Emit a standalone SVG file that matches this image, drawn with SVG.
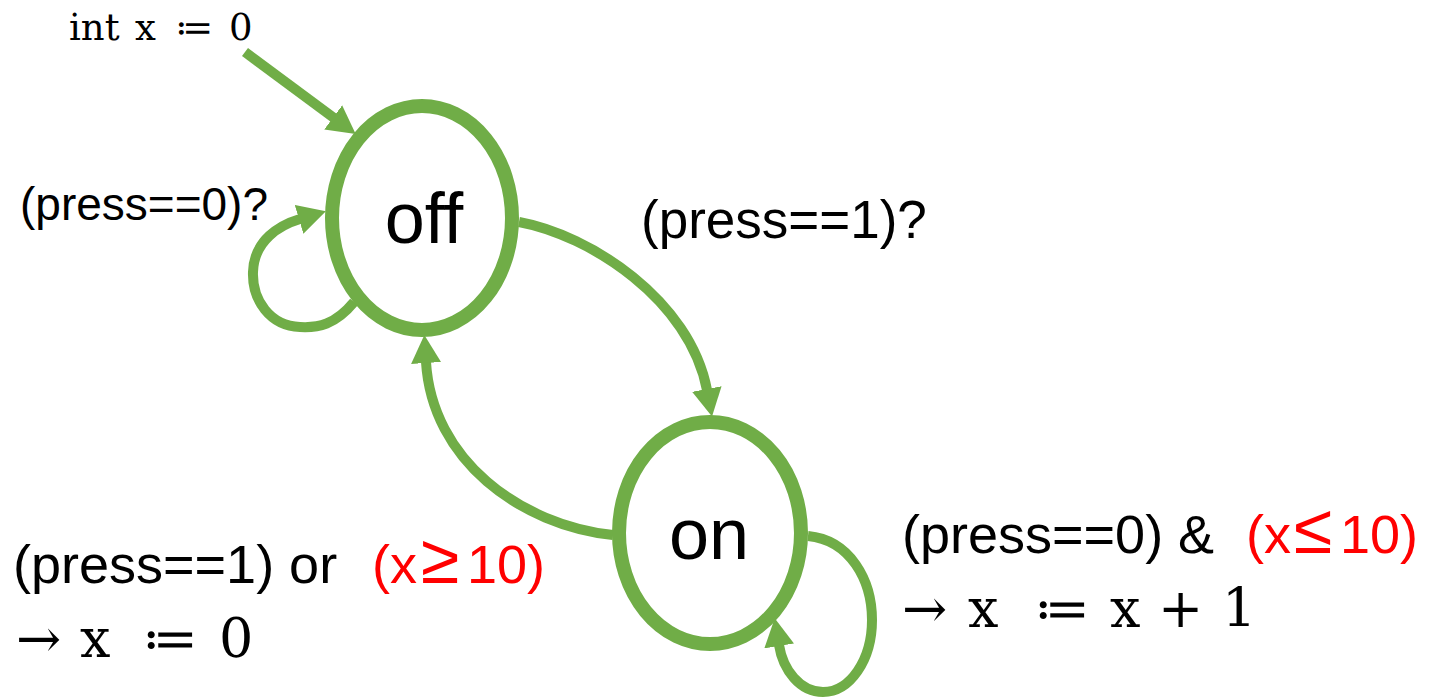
<svg xmlns="http://www.w3.org/2000/svg" width="1430" height="698" viewBox="0 0 1430 698">
<style>
.state{fill:#fff;stroke:#70AD47;stroke-width:14}
.edge{fill:none;stroke:#70AD47;stroke-width:10}
.sans{font-family:"Liberation Sans",Arial,sans-serif;fill:#000}
.serif{font-family:"DejaVu Serif","Liberation Serif",serif;fill:#000}
.red{fill:#FF0000}
</style>
<defs>
<marker id="arr" markerUnits="userSpaceOnUse" markerWidth="30" markerHeight="32" refX="1" refY="15" orient="auto" viewBox="0 0 30 30">
<path d="M0,0 L28,15 L0,30 z" fill="#70AD47"/>
</marker>
</defs>
<g id="edges">
<path id="e-init" class="edge" d="M245,52 L334,118" marker-end="url(#arr)"/>
<path id="e-off-loop" class="edge" d="M354,302 C335,325 318,328 300,327 C270,326 252,300 253,272 C254,240 280,225 300,219" marker-end="url(#arr)"/>
<path id="e-off-on" class="edge" d="M519,222 C590,235 690,300 707,390" marker-end="url(#arr)"/>
<path id="e-on-off" class="edge" d="M613,535 C520,525 432,460 426,362" marker-end="url(#arr)"/>
<path id="e-on-loop" class="edge" d="M808,536 C850,540 872,580 872,620 C872,660 850,692 823,692 C800,692 783,670 779,645" marker-end="url(#arr)"/>
</g>
<g id="node-off">
<ellipse class="state" cx="422" cy="218" rx="90" ry="112"/>
<text class="sans" x="424" y="243" font-size="72" text-anchor="middle">off</text>
</g>
<g id="node-on">
<ellipse class="state" cx="710" cy="533" rx="91" ry="111"/>
<text class="sans" x="709" y="559" font-size="72" text-anchor="middle">on</text>
</g>
<g id="labels">
<text class="serif" y="40" font-size="37"><tspan x="69">int</tspan><tspan x="135">x</tspan><tspan x="175">≔</tspan><tspan x="229">0</tspan></text>
<text class="sans" x="20" y="220" font-size="46">(press==0)?</text>
<text class="sans" x="641" y="238" font-size="53">(press==1)?</text>
<text class="sans" x="13" y="583" font-size="54">(press==1) or <tspan class="red" x="372">(x</tspan><tspan class="red" x="421" font-size="70">≥</tspan><tspan class="red" x="467">10)</tspan></text>
<text class="serif" y="657" font-size="54"><tspan x="16">→</tspan><tspan x="80">x</tspan><tspan x="142">≔</tspan><tspan x="219">0</tspan></text>
<text class="sans" x="902" y="553" font-size="54">(press==0) &amp; <tspan class="red" x="1246">(x</tspan><tspan class="red" x="1294" font-size="70">≤</tspan><tspan class="red" x="1340">10)</tspan></text>
<text class="serif" y="627" font-size="54"><tspan x="902">→</tspan><tspan x="968">x</tspan><tspan x="1034">≔</tspan><tspan x="1110">x</tspan><tspan x="1158">+</tspan><tspan x="1222">1</tspan></text>
</g>
</svg>
